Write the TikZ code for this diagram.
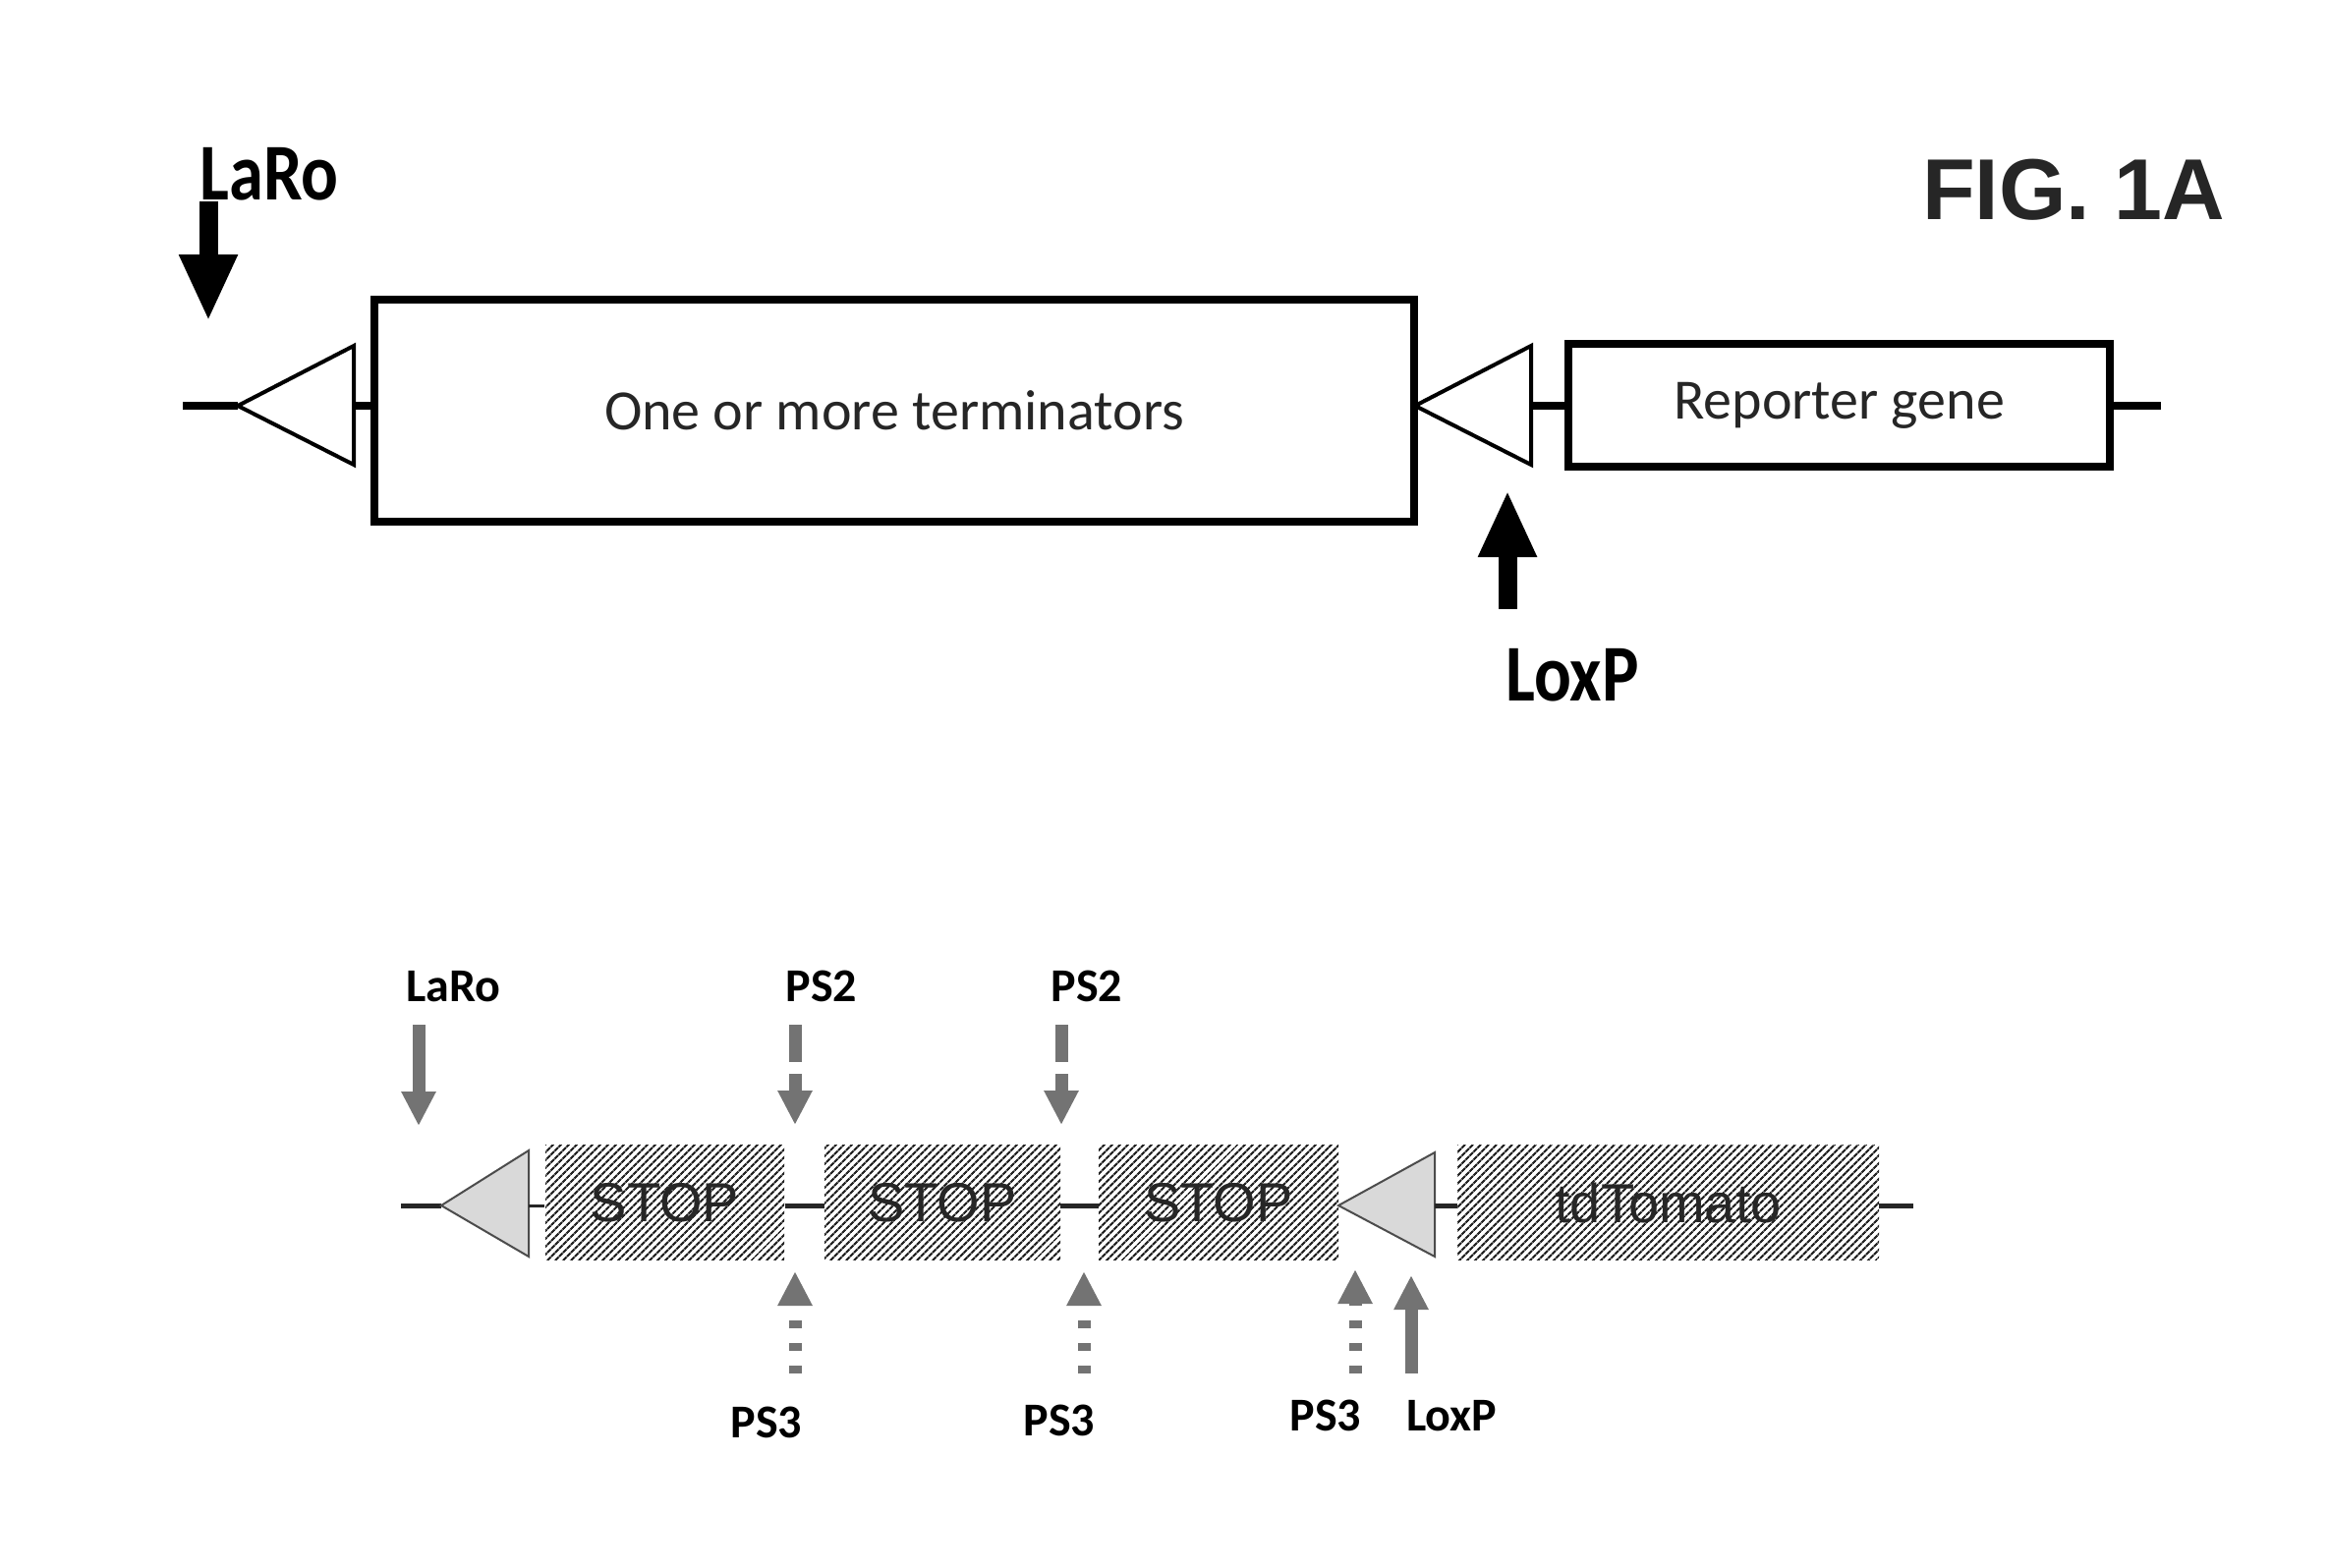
\documentclass[tikz,border=0pt]{standalone}
\usepackage{fontspec}
\setmainfont{Carlito}
\newfontfamily\arialfont{Liberation Sans}
\newfontfamily\labfont{Carlito}[FakeStretch=0.86]
\usetikzlibrary{arrows.meta,patterns.meta}
\tikzset{
  topbox/.style={draw=black, line width=8bp, inner sep=0pt, text=black!85,
    font=\fontsize{58bp}{60bp}\selectfont},
  topline/.style={draw=black, line width=8bp},
  toptri/.style={draw=black, line width=4bp, line join=miter, fill=white},
  bigarrow/.style={draw=black, line width=19bp,
    -{Triangle[width=55bp,length=68bp]}},
  biglabel/.style={inner sep=0pt, font=\labfont\bfseries\fontsize{82bp}{84bp}\selectfont},
  figlabel/.style={inner sep=0pt, text=black!85,
    font=\arialfont\bfseries\fontsize{88bp}{90bp}\selectfont},
  stopbox/.style={pattern={Lines[angle=45,distance=6bp,line width=2.6bp]},
    pattern color=black!85, minimum height=117bp, inner sep=0pt, text=black!85,
    font=\arialfont\fontsize{56bp}{58bp}\selectfont},
  botline/.style={draw=black!85, line width=5bp},
  bottri/.style={draw=black!70, line width=2bp, fill=black!15},
  smalllabel/.style={inner sep=0pt, font=\bfseries\fontsize{48bp}{50bp}\selectfont},
  smallarrow/.style={draw=black!55, line width=13bp,
    -{Triangle[width=33bp,length=35bp]}},
  dasharrow/.style={smallarrow, dash pattern=on 38bp off 12bp},
  dotarrow/.style={smallarrow, dash pattern=on 8bp off 15bp}
}
\begin{document}
\begin{tikzpicture}[x=1bp,y=-1bp]
\useasboundingbox (0,0) rectangle (2370,1595);

% ---------------- top construct ----------------
\node[topbox, minimum width=1057bp, minimum height=226bp] (term) at (910,418) {One or more terminators};
\node[topbox, minimum width=551bp, minimum height=125bp] (rep) at (1871.5,412.5) {Reporter gene};

\coordinate (lend) at (186,413);
\coordinate (t1tip) at (242,413);
\coordinate (t1base) at (360,413);
\coordinate (t2tip) at (1440,413);
\coordinate (t2base) at (1558,413);
\coordinate (rend) at (2199,413);

\draw[topline] (lend) -- (t1tip);
\draw[toptri] (t1tip) -- (360,352) -- (360,473) -- cycle;
\draw[topline] (t1base) -- (term.west |- t1base);
\draw[toptri] (t2tip) -- (1558,352) -- (1558,473) -- cycle;
\draw[topline] (t2base) -- (rep.west |- t2base);
\draw[topline] (rep.east |- rend) -- (rend);

\node[biglabel] (laroT) at (274,177) {LaRo};
\coordinate (laroTtail) at (212,205);
\coordinate (laroTtip) at (212,327);
\draw[bigarrow] (laroTtail) -- (laroTtip);

\node[biglabel] (loxT) at (1600,687) {LoxP};
\coordinate (loxTtail) at (1534,620);
\coordinate (loxTtip) at (1534,499);
\draw[bigarrow] (loxTtail) -- (loxTtip);

\node[figlabel] (fig) at (2110,193) {FIG. 1A};

% ---------------- bottom construct ----------------
\node[stopbox, minimum width=243bp] (s1) at (676.5,1224) {STOP};
\node[stopbox, minimum width=240bp] (s2) at (959,1224) {STOP};
\node[stopbox, minimum width=244bp] (s3) at (1240,1224) {STOP};
\node[stopbox, minimum width=429bp] (td) at (1697.5,1224) {tdTomato};

\coordinate (blend) at (408,1227);
\coordinate (bt1tip) at (449,1227);
\coordinate (bt1base) at (538,1227);
\coordinate (bt2tip) at (1362,1227);
\coordinate (bt2base) at (1460,1227);
\coordinate (brend) at (1947,1227);

\draw[botline] (blend) -- (bt1tip);
\draw[bottri] (bt1tip) -- (538,1171) -- (538,1279) -- cycle;
\draw[botline, line width=3bp] (bt1base) -- (s1.west |- bt1base);
\draw[botline] (s1.east |- bt1base) -- (s2.west |- bt1base);
\draw[botline] (s2.east |- bt1base) -- (s3.west |- bt1base);
\draw[bottri] (bt2tip) -- (1460,1173) -- (1460,1279) -- cycle;
\draw[botline] (bt2base) -- (td.west |- bt2base);
\draw[botline] (td.east |- brend) -- (brend);

% labels above
\node[smalllabel] (laroB) at (461,1004) {LaRo};
\node[smalllabel] (ps2a) at (836,1004) {PS2};
\node[smalllabel] (ps2b) at (1106,1004) {PS2};
% labels below
\node[smalllabel] (ps3a) at (780,1448) {PS3};
\node[smalllabel] (ps3b) at (1078,1446) {PS3};
\node[smalllabel] (ps3c) at (1349,1441) {PS3};
\node[smalllabel] (loxB) at (1477,1441) {LoxP};

% arrows above
\coordinate (aLaroT) at (426,1043); \coordinate (aLaroH) at (426,1146);
\coordinate (aP2aT) at (809,1043);  \coordinate (aP2aH) at (809,1145);
\coordinate (aP2bT) at (1080,1043); \coordinate (aP2bH) at (1080,1145);
\draw[smallarrow] (aLaroT) -- (aLaroH);
\draw[dasharrow] (aP2aT) -- (aP2aH);
\draw[dasharrow] (aP2bT) -- (aP2bH);

% arrows below
\coordinate (aP3aT) at (809,1398);  \coordinate (aP3aH) at (809,1294);
\coordinate (aP3bT) at (1103,1398); \coordinate (aP3bH) at (1103,1294);
\coordinate (aP3cT) at (1379,1398); \coordinate (aP3cH) at (1379,1292);
\coordinate (aLoxT) at (1436,1398); \coordinate (aLoxH) at (1436,1298);
\draw[dotarrow] (aP3aT) -- (aP3aH);
\draw[dotarrow] (aP3bT) -- (aP3bH);
\draw[dotarrow] (aP3cT) -- (aP3cH);
\draw[smallarrow] (aLoxT) -- (aLoxH);
\end{tikzpicture}
\end{document}
